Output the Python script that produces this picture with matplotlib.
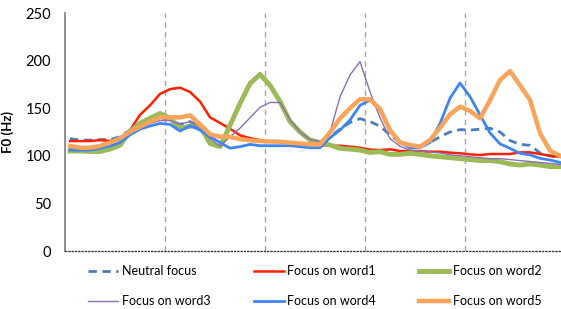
import matplotlib.pyplot as plt
import numpy as np

plt.rcParams['font.family'] = ['Lato', 'DejaVu Sans']

# F0 contour, 50 sample points per utterance (10 per word)
neutral = [118, 116.5, 116.5, 117, 117, 120, 127, 132, 136, 139,
           138, 133, 136, 131, 122, 120, 119, 118, 116, 115,
           115, 114, 114, 113, 113, 113, 120, 128, 135, 139,
           136, 131, 122, 114, 111, 110, 114, 120, 125, 127.5,
           127, 128, 129, 125, 116, 112, 111, 103, 100, 98]
word1 = [115.5, 115.5, 115.5, 116.5, 115.5, 118, 127, 143, 153, 165,
         170, 171.6, 167, 157, 140.4, 134.5, 128.5, 121.5, 118.5, 116.6,
         115, 114.5, 114, 113, 112, 111.3, 110.6, 110.6, 109.6, 108.5,
         106.5, 106, 106.8, 105, 105, 105, 104.3, 104.3, 103.3, 102.6,
         101.5, 100.8, 101.9, 101.9, 101.9, 103.6, 103.6, 101.9, 100, 99]
word2 = [105, 105, 104.5, 104.5, 107, 111, 126, 134, 139.5, 144.5,
         139.5, 129, 131, 131.6, 113, 109.6, 132, 155, 176, 185.6,
         174, 157, 136, 125, 116.6, 114, 111.3, 107.8, 107, 106,
         103.5, 104.3, 101.5, 101.5, 102.6, 101.5, 100, 99, 98, 97,
         96, 95, 95, 93.8, 91.4, 90.3, 91.4, 90.3, 88.6, 88.6]
word3 = [108, 107, 107, 108, 110, 115, 123, 129, 134, 137,
         137, 133, 136, 128, 118, 110, 120, 129, 140, 151,
         156, 156, 138, 125, 117, 115, 125, 162, 185, 199,
         167, 140, 118, 110, 106, 105, 104, 103, 101, 100,
         99, 98, 97, 97, 96, 95, 94, 93, 92, 91]
word4 = [106, 106, 106, 107.8, 110.3, 114, 122, 128, 131.3, 134,
         133, 126, 131.6, 127, 120, 114, 108, 109.6, 112, 110.6,
         110.6, 110.6, 110.6, 109.6, 108.5, 108.5, 119, 127, 137.6, 153,
         158.6, 148, 126, 114, 108.5, 108.5, 114, 134, 160.5, 176.5,
         162, 143, 124, 112.5, 107.8, 102.6, 101, 97.3, 95.6, 93]
word5 = [110.3, 108.5, 108.5, 110.3, 113.8, 118.3, 125.3, 130.6, 135.8, 140.4,
         140.4, 140.4, 142.5, 133, 122.7, 120, 120, 117.5, 116.2, 115.5,
         115, 114.8, 113.8, 113, 112, 112, 124.7, 139.3, 150, 159.5,
         159.3, 149.2, 127, 114, 111.3, 109.6, 116.6, 129.5, 143.6, 151.6,
         147, 139.3, 158.6, 179.6, 189, 174, 158.6, 123.6, 105.5, 100]
word_bounds = [9.5, 19.5, 29.5, 39.5]
yticks = [0, 50, 100, 150, 200, 250]

fig = plt.figure(figsize=(5.61, 3.09), dpi=100)
ax = fig.add_axes([0.1159, 0.1877, 0.8913, 0.7702])

x = np.arange(len(neutral))
for b in word_bounds:
    ax.axvline(b, color='#a6a6a6', lw=1, ls=(0, (4, 3)), zorder=1)

ax.plot(x, neutral, color='#4a7ebb', lw=2, ls=(0, (3, 2)), label='Neutral focus')
ax.plot(x, word1, color='#ff2000', lw=1.8, label='Focus on word1')
ax.plot(x, word2, color='#9bbb59', lw=3.5, label='Focus on word2')
ax.plot(x, word3, color='#8c6fb0', lw=1, label='Focus on word3')
ax.plot(x, word4, color='#3d85f5', lw=2, label='Focus on word4')
ax.plot(x, word5, color='#f9a45a', lw=3.2, label='Focus on word5')

ax.set_xlim(-0.5, 49.5)
ax.set_ylim(0, 250)
ax.set_xticks([])
ax.set_yticks(yticks)
ax.tick_params(axis='y', length=0, pad=10, labelsize=10.5)
ax.set_ylabel('F0 (Hz)', fontweight='bold', fontsize=9.5, labelpad=8)

for s in ['top', 'right']:
    ax.spines[s].set_visible(False)
ax.spines['left'].set_color('#868686')
ax.spines['left'].set_linewidth(1.3)
ax.spines['bottom'].set_linestyle(':')
ax.spines['bottom'].set_linewidth(0.9)
ax.spines['bottom'].set_color('#333333')

# legend is filled row by row in the reference
handles, labels = ax.get_legend_handles_labels()
order = [0, 3, 1, 4, 2, 5]
fig.legend([handles[i] for i in order], [labels[i] for i in order],
           loc='upper left', bbox_to_anchor=(88 / 561, 1 - 265 / 309),
           ncol=3, frameon=False, fontsize=9, handlelength=2.4,
           handletextpad=0.3, columnspacing=3.45, labelspacing=1.45,
           borderpad=0, borderaxespad=0)

fig.savefig('out.png', dpi=100)
